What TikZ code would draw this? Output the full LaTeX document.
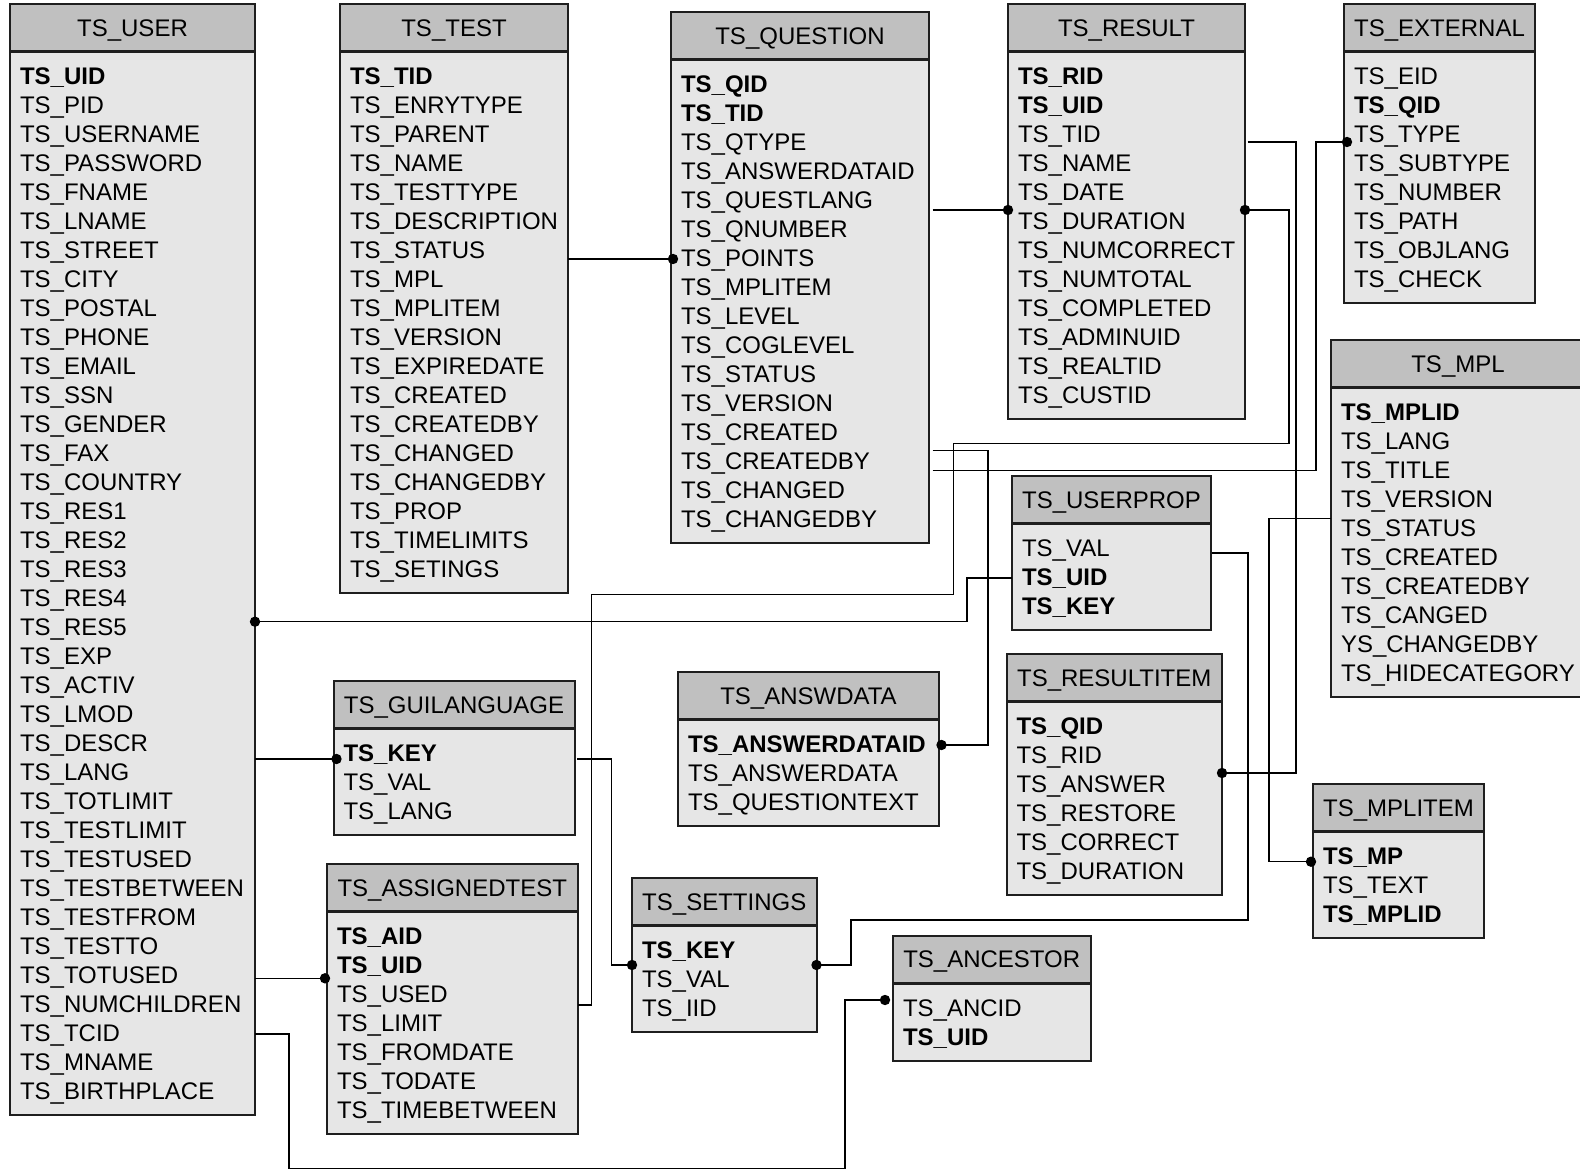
\documentclass[tikz,border=0pt]{standalone}
\usepackage{fontspec}
\setmainfont{Liberation Sans}
\usetikzlibrary{calc}
\definecolor{hdrgray}{RGB}{192,192,192}
\definecolor{bodygray}{RGB}{230,230,230}
\definecolor{edgec}{RGB}{30,30,30}
\tikzset{
  tabhead/.style={draw=edgec, fill=hdrgray, line width=1pt, inner sep=0pt, outer sep=0pt,
    anchor=north west, text height=8.6pt, text depth=0pt, font=\fontsize{12pt}{14pt}\selectfont},
  tabbody/.style={draw=edgec, fill=bodygray, line width=1pt, inner sep=0pt, outer sep=0pt, anchor=north west},
  rowtxt/.style={inner sep=0pt, outer sep=0pt, anchor=west, text height=8.6pt, text depth=0pt,
    font=\fontsize{12pt}{14pt}\selectfont},
  conn/.style={line width=0.7pt, black},
  fkdot/.style={fill=black},
}
% name, left, top, right, title, number of rows, rows
\newcommand\dbtab[7]{%
  \node[tabbody, minimum width={(#4-#2)*0.5pt}, minimum height={(29*#6+19.4)*0.5pt}] (#1) at (#2,#3+47) {};
  \node[tabhead, minimum width={(#4-#2)*0.5pt}, minimum height=23.5pt] (#1-h) at (#2,#3-1) {#5};
  \foreach \rt [count=\ri] in {#7} {
    \node[rowtxt] (#1-\ri) at ({#2+10},{#3+47+24+(\ri-1)*29}) {\rt};
  }%
}
\begin{document}
\begin{tikzpicture}[x=0.5pt, y=-0.5pt]
\path[fill=white, use as bounding box] (0,0) rectangle (1580,1170);

\dbtab{user}{10}{5}{255}{TS\_USER}{36}{\textbf{TS\_UID}, TS\_PID, TS\_USERNAME, TS\_PASSWORD, TS\_FNAME, TS\_LNAME, TS\_STREET, TS\_CITY, TS\_POSTAL, TS\_PHONE, TS\_EMAIL, TS\_SSN, TS\_GENDER, TS\_FAX, TS\_COUNTRY, TS\_RES1, TS\_RES2, TS\_RES3, TS\_RES4, TS\_RES5, TS\_EXP, TS\_ACTIV, TS\_LMOD, TS\_DESCR, TS\_LANG, TS\_TOTLIMIT, TS\_TESTLIMIT, TS\_TESTUSED, TS\_TESTBETWEEN, TS\_TESTFROM, TS\_TESTTO, TS\_TOTUSED, TS\_NUMCHILDREN, TS\_TCID, TS\_MNAME, TS\_BIRTHPLACE}

\dbtab{test}{340}{5}{568}{TS\_TEST}{18}{\textbf{TS\_TID}, TS\_ENRYTYPE, TS\_PARENT, TS\_NAME, TS\_TESTTYPE, TS\_DESCRIPTION, TS\_STATUS, TS\_MPL, TS\_MPLITEM, TS\_VERSION, TS\_EXPIREDATE, TS\_CREATED, TS\_CREATEDBY, TS\_CHANGED, TS\_CHANGEDBY, TS\_PROP, TS\_TIMELIMITS, TS\_SETINGS}

\dbtab{question}{671}{13}{929}{TS\_QUESTION}{16}{\textbf{TS\_QID}, \textbf{TS\_TID}, TS\_QTYPE, TS\_ANSWERDATAID, TS\_QUESTLANG, TS\_QNUMBER, TS\_POINTS, TS\_MPLITEM, TS\_LEVEL, TS\_COGLEVEL, TS\_STATUS, TS\_VERSION, TS\_CREATED, TS\_CREATEDBY, TS\_CHANGED, TS\_CHANGEDBY}

\dbtab{result}{1008}{5}{1245}{TS\_RESULT}{12}{\textbf{TS\_RID}, \textbf{TS\_UID}, TS\_TID, TS\_NAME, TS\_DATE, TS\_DURATION, TS\_NUMCORRECT, TS\_NUMTOTAL, TS\_COMPLETED, TS\_ADMINUID, TS\_REALTID, TS\_CUSTID}

\dbtab{external}{1344}{5}{1535}{TS\_EXTERNAL}{8}{TS\_EID, \textbf{TS\_QID}, TS\_TYPE, TS\_SUBTYPE, TS\_NUMBER, TS\_PATH, TS\_OBJLANG, TS\_CHECK}

\dbtab{mpl}{1331}{341}{1585}{TS\_MPL}{10}{\textbf{TS\_MPLID}, TS\_LANG, TS\_TITLE, TS\_VERSION, TS\_STATUS, TS\_CREATED, TS\_CREATEDBY, TS\_CANGED, YS\_CHANGEDBY, TS\_HIDECATEGORY}

\dbtab{userprop}{1012}{477}{1211}{TS\_USERPROP}{3}{TS\_VAL, \textbf{TS\_UID}, \textbf{TS\_KEY}}

\dbtab{guilang}{333.5}{682}{574.5}{TS\_GUILANGUAGE}{3}{\textbf{TS\_KEY}, TS\_VAL, TS\_LANG}

\dbtab{answdata}{678}{673}{939}{TS\_ANSWDATA}{3}{\textbf{TS\_ANSWERDATAID}, TS\_ANSWERDATA, TS\_QUESTIONTEXT}

\dbtab{resultitem}{1006.5}{655}{1222}{TS\_RESULTITEM}{6}{\textbf{TS\_QID}, TS\_RID, TS\_ANSWER, TS\_RESTORE, TS\_CORRECT, TS\_DURATION}

\dbtab{assignedtest}{327}{865}{577.5}{TS\_ASSIGNEDTEST}{7}{\textbf{TS\_AID}, \textbf{TS\_UID}, TS\_USED, TS\_LIMIT, TS\_FROMDATE, TS\_TODATE, TS\_TIMEBETWEEN}

\dbtab{settings}{632}{879}{816.5}{TS\_SETTINGS}{3}{\textbf{TS\_KEY}, TS\_VAL, TS\_IID}

\dbtab{ancestor}{893}{936.5}{1090.5}{TS\_ANCESTOR}{2}{TS\_ANCID, \textbf{TS\_UID}}

\dbtab{mplitem}{1313}{785}{1484}{TS\_MPLITEM}{3}{\textbf{TS\_MP}, TS\_TEXT, \textbf{TS\_MPLID}}

% connectors
% TS_TEST -> TS_QUESTION
\draw[conn] (test.east |- 0,259) -- (question.west |- 0,259);
\fill[fkdot] ($(question.west |- 0,259)+(2,0)$) circle (2.6pt);
% TS_QUESTION -> TS_RESULT
\draw[conn] ($(question.east |- 0,210)+(3.5,0)$) -- (result.west |- 0,210);
\fill[fkdot] (result.west |- 0,210) circle (2.6pt);
% TS_RESULT -> TS_ASSIGNEDTEST
\draw[conn] (result.east |- 0,210) -| (1289,443.3) -| (953.3,594.3) -| (591.5,1005) -- (assignedtest.east |- 0,1005);
\fill[fkdot] (result.east |- 0,210) circle (2.6pt);
% TS_RESULT -> TS_RESULTITEM
\draw[conn] ($(result.east |- 0,142)+(2.5,0)$) -| (1296,773) -- (resultitem.east |- 0,773);
\fill[fkdot] (resultitem.east |- 0,773) circle (2.6pt);
% TS_QUESTION -> TS_EXTERNAL
\draw[conn] ($(question.east |- 0,470.7)+(3.5,0)$) -| (1316,142) -- (external.west |- 0,142);
\fill[fkdot] ($(external.west |- 0,142)+(3,0)$) circle (2.6pt);
% TS_QUESTION -> TS_ANSWDATA
\draw[conn] ($(question.east |- 0,450.7)+(3.5,0)$) -| (988,745) -- (answdata.east |- 0,745);
\fill[fkdot] ($(answdata.east |- 0,745)+(2.5,0)$) circle (2.6pt);
% TS_USER -> TS_USERPROP
\draw[conn] (user.east |- 0,621.7) -| (967,578) -- (userprop.west |- 0,578);
\fill[fkdot] (user.east |- 0,621.7) circle (2.6pt);
% TS_USERPROP -> TS_SETTINGS
\draw[conn] ($(userprop.east |- 0,553)+(1,0)$) -| (1248,920) -| (851,965) -- (settings.east |- 0,965);
\fill[fkdot] (settings.east |- 0,965) circle (2.6pt);
% TS_MPL -> TS_MPLITEM
\draw[conn] (mpl.west |- 0,518.5) -| (1269,861.7) -- (mplitem.west |- 0,861.7);
\fill[fkdot] ($(mplitem.west |- 0,861.7)+(-2,0)$) circle (2.6pt);
% TS_USER -> TS_GUILANGUAGE
\draw[conn] (user.east |- 0,759) -- (guilang.west |- 0,759);
\fill[fkdot] ($(guilang.west |- 0,759)+(3,0)$) circle (2.6pt);
% TS_GUILANGUAGE -> TS_SETTINGS
\draw[conn] ($(guilang.east |- 0,759)+(2.5,0)$) -| (611.7,965) -- (settings.west |- 0,965);
\fill[fkdot] (settings.west |- 0,965) circle (2.6pt);
% TS_USER -> TS_ASSIGNEDTEST
\draw[conn] (user.east |- 0,978.3) -- (assignedtest.west |- 0,978.3);
\fill[fkdot] ($(assignedtest.west |- 0,978.3)+(-2,0)$) circle (2.6pt);
% TS_USER -> TS_ANCESTOR
\coordinate (ancend) at ($(ancestor.west |- 0,1000)+(-8,0)$);
\draw[conn] (user.east |- 0,1034) -| (289,1168.5) -| (845,1000) -- (ancend);
\fill[fkdot] (ancend) circle (2.6pt);
\end{tikzpicture}
\end{document}
